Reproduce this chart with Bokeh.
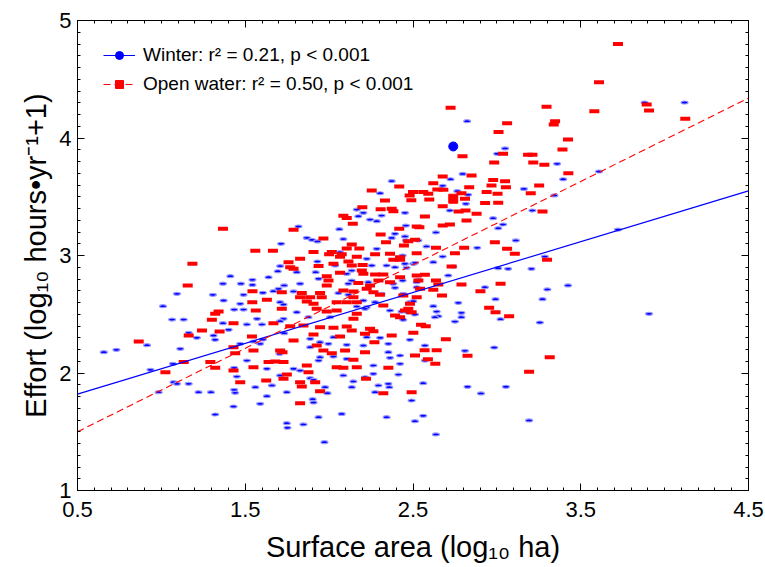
import numpy as np
from bokeh.plotting import figure
from bokeh.models import (Range1d, FixedTicker, LinearAxis, Legend, LegendItem,
                          CustomJSTickFormatter)
from bokeh.embed import file_html
from bokeh.resources import INLINE

# ---------------- data (log10 surface area, log10 effort) ----------------
winter_x = [1.01, 1.093, 1.064, 1.133, 1.307, 1.371, 1.367, 1.411, 1.474, 1.543, 1.543, 1.49, 1.47, 1.434,
            1.605, 1.639, 1.668, 1.698, 1.714, 1.708, 1.694, 1.732, 1.788, 1.817, 1.867, 1.897, 1.93, 1.807,
            1.827, 1.93, 1.92, 1.937, 2.036, 2.065, 2.061, 2.085, 2.165, 2.174, 2.204, 2.244, 2.284, 2.304,
            2.373, 2.313, 2.452, 2.458, 2.373, 2.393, 2.284, 2.224, 2.135, 2.254, 2.343, 2.393, 2.438, 2.452,
            2.502, 2.452, 2.532, 2.105, 2.135, 2.115, 2.234, 2.383, 2.393, 2.438, 2.522, 2.055, 2.115, 2.204,
            2.224, 2.274, 2.313, 2.442, 2.482, 2.522, 1.708, 1.728, 1.807, 1.877, 2.006, 2.165, 2.214, 2.363,
            2.432, 1.49, 1.57, 1.728,
            2.823, 3.881, 4.119, 3.049, 3.002, 3.359, 2.796, 2.724, 2.677, 3.395, 3.161, 3.343, 2.829, 2.764,
            2.815, 2.72, 3.212, 3.609, 2.637, 2.978, 3.037, 3.008, 2.458, 2.581, 2.883, 3.113, 3.722, 2.677,
            2.621, 2.512, 2.462, 2.74, 3.008, 3.067, 3.206, 3.286, 2.71, 2.532, 2.929, 3.301, 3.424, 2.992,
            3.272, 2.77, 2.621, 2.502,
            0.657, 0.732, 0.915, 1.113, 1.163, 1.212, 1.367, 1.311, 1.321, 1.401, 1.51, 1.6, 0.935, 1.069,
            1.073, 1.093, 1.163, 0.984, 1.222, 1.296, 1.321, 1.43, 1.434, 1.44, 1.45, 1.434, 1.47, 1.549,
            1.51, 1.56, 1.629, 1.589, 1.629, 1.659, 1.605, 1.748, 1.748, 1.752, 1.847, 1.827, 1.887, 1.907,
            1.902, 1.907, 1.937, 1.976, 1.99, 1.972, 2.075, 2.085, 2.135, 2.145, 2.214, 2.264, 2.274, 2.294,
            2.343, 2.353, 2.359, 2.413, 2.423, 2.492, 2.512, 2.264, 1.708, 1.732, 1.887, 1.887, 1.946, 1.996,
            2.105, 2.026, 1.946, 1.937, 2.026, 2.105, 2.204, 2.224, 2.304, 2.353, 2.353, 2.363, 2.423, 2.482,
            1.589, 1.704, 1.788, 1.708,
            3.907, 3.256, 3.022, 2.789, 2.789, 2.75, 2.641, 2.651, 2.631, 2.512, 2.472, 2.442, 2.571, 2.81,
            2.984, 2.571, 2.561, 2.825, 3.054, 2.905, 2.561, 2.637, 3.192]
winter_y = [2.569, 2.674, 2.455, 2.455, 2.665, 2.617, 2.76, 2.824, 2.76, 2.793, 2.75, 2.665, 2.589, 2.54,
            2.683, 2.815, 2.696, 2.716, 3.1, 2.91, 2.866, 2.745, 2.694, 3.247, 3.15, 3.133, 3.12, 2.858,
            2.76, 2.949, 2.858, 2.802, 2.915, 3.028, 3.224, 3.14, 3.391, 3.334, 3.363, 3.306, 3.292, 3.53,
            3.633, 3.34, 3.363, 3.255, 3.15, 3.185, 3.057, 2.972, 2.872, 2.915, 2.915, 2.9, 3.0, 2.93,
            2.93, 3.162, 3.128, 2.844, 2.787, 2.76, 2.773, 2.76, 2.725, 2.787, 2.773, 2.68, 2.665, 2.617,
            2.56, 2.603, 2.674, 2.674, 2.603, 2.73, 2.603, 2.583, 2.517, 2.475, 2.475, 2.566, 2.546, 2.532,
            2.523, 2.54, 2.461, 2.461,
            4.143, 4.302, 4.302, 3.911, 3.866, 3.78, 3.694, 3.649, 3.593, 3.649, 3.567, 3.511, 3.517, 3.548,
            3.44, 3.383, 3.383, 3.715, 3.196, 3.318, 3.264, 3.232, 3.128, 3.077, 3.065, 3.128, 3.221, 2.991,
            2.943, 2.938, 2.895, 2.906, 2.892, 2.887, 2.887, 2.991, 2.83, 2.793, 2.73, 2.711, 2.745, 2.628,
            2.628, 2.597, 2.569, 2.611,
            2.177, 2.197, 2.237, 2.206, 2.342, 2.3, 2.424, 2.319, 2.283, 2.368, 2.413, 2.413, 2.027, 2.078,
            1.922, 1.908, 1.908, 1.837, 1.837, 1.837, 1.647, 1.715, 1.857, 1.831, 1.97, 2.044, 2.248, 2.268,
            2.106, 1.879, 2.036, 1.738, 1.803, 1.894, 2.285, 1.837, 1.573, 1.534, 1.562, 2.021, 1.956, 1.942,
            1.777, 1.749, 1.624, 1.879, 1.828, 1.411, 1.652, 1.979, 1.879, 1.928, 1.964, 1.993, 1.837, 1.894,
            1.624, 1.908, 1.879, 1.987, 2.078, 1.766, 1.59, 2.064, 2.441, 2.339, 2.291, 2.22, 2.262, 2.248,
            2.24, 2.305, 2.135, 2.106, 2.14, 2.12, 2.234, 2.305, 2.3, 2.248, 2.177, 2.129, 2.149, 2.283,
            2.248, 2.163, 2.036, 1.979,
            2.504, 2.43, 2.458, 2.512, 2.475, 2.438, 2.523, 2.483, 2.475, 2.498, 2.515, 2.453, 2.234, 2.189,
            2.217, 2.106, 1.913, 1.883, 1.883, 1.826, 1.636, 1.477, 1.596]

open_x = [1.367, 1.185, 1.157, 1.788, 1.56, 1.665, 1.966, 2.254, 2.418, 2.50, 2.48, 2.49, 2.333, 2.198,
          2.307, 2.373, 2.383, 2.085, 2.105, 2.141, 2.418, 2.522, 2.307, 2.135, 2.18, 2.339, 2.472, 2.512,
          2.446, 1.907, 2.016, 2.0, 2.075, 2.065, 2.105, 2.165, 2.115, 2.274, 2.363, 2.423, 2.383, 2.423,
          2.522, 1.827, 1.758, 1.768, 1.788, 1.937, 2.026, 2.135, 2.2, 2.195, 2.204, 1.986, 1.996, 1.986,
          2.065, 2.274, 2.323, 2.294, 2.423, 2.363, 2.522, 2.532, 2.174, 2.244, 1.543, 1.718, 1.629, 1.837,
          1.827, 1.887, 1.946, 1.956, 2.085, 2.145, 2.224, 2.145, 2.165, 2.045, 2.105, 1.867, 1.907, 1.718,
          1.542, 1.563, 1.341, 1.321, 1.301, 1.926, 1.986, 2.045, 2.145, 2.165, 2.393, 2.423, 2.452, 2.323,
          2.472, 2.492, 2.264, 2.303,
          0.865, 1.163, 1.242, 1.347, 1.43, 1.133, 1.024, 1.292, 1.321, 1.43, 1.44, 1.43, 1.47, 1.54,
          1.549, 1.549, 1.625, 1.639, 1.679, 1.708, 1.722, 1.728, 1.748, 1.728, 1.827, 1.837, 1.827, 1.867,
          1.946, 1.877, 1.966, 2.016, 2.095, 2.045, 2.085, 2.145, 2.165, 2.214, 2.22, 2.353, 2.323, 2.492,
          2.512, 2.502, 2.244, 2.264, 2.214, 2.373, 2.27, 2.135, 2.065, 1.907, 1.926, 1.788, 1.768, 1.847,
          1.946, 2.026, 2.105, 1.668, 1.917,
          3.722, 3.609, 3.581, 2.724, 3.296, 3.347, 3.339, 3.893, 3.907, 4.123, 3.061, 3.01, 3.424, 3.391,
          3.037, 3.186, 3.212, 2.795, 2.984, 3.217, 3.283, 3.426, 2.677, 2.849, 2.621, 2.978, 3.049, 3.252,
          2.835, 2.968, 3.054, 3.202, 2.789, 2.561, 2.591, 2.645, 2.681, 2.597, 2.81, 2.939, 3.004, 2.93,
          3.008, 2.677, 2.772, 2.813, 2.879, 3.272, 2.571, 2.819, 2.677, 2.72, 2.538, 2.988, 2.805, 2.637,
          2.75, 3.061, 3.107, 3.299, 2.571, 2.637, 2.651, 2.621, 2.542, 2.789, 2.902, 3.022, 2.673, 2.442,
          2.522, 2.954, 2.482, 2.73,
          2.569, 2.641, 2.589, 2.633, 2.696, 2.825, 2.548, 2.576, 2.992, 3.073, 3.315, 3.192]
open_y = [3.227, 2.93, 2.745, 3.219, 3.04, 3.04, 3.145, 3.553, 3.587, 3.54, 3.51, 3.47, 3.468, 3.411,
          3.394, 3.397, 3.377, 3.338, 3.32, 3.27, 3.227, 3.247, 3.179, 3.094, 3.06, 3.113, 3.122, 3.134,
          3.085, 3.03, 3.03, 3.01, 3.01, 2.99, 3.06, 2.99, 2.949, 3.01, 3.015, 2.986, 2.963, 2.963,
          3.02, 2.972, 2.943, 2.9, 2.887, 2.91, 2.93, 2.915, 2.92, 2.872, 2.844, 2.824, 2.787, 2.745,
          2.853, 2.838, 2.838, 2.787, 2.815, 2.773, 2.83, 2.787, 2.766, 2.745, 2.696, 2.688, 2.623, 2.68,
          2.645, 2.645, 2.68, 2.645, 2.702, 2.694, 2.716, 2.645, 2.603, 2.603, 2.603, 2.608, 2.589, 2.547,
          2.603, 2.532, 2.523, 2.504, 2.453, 2.547, 2.523, 2.532, 2.461, 2.504, 2.489, 2.475, 2.532, 2.574,
          2.546, 2.517, 2.688, 2.665,
          2.268, 2.319, 2.362, 2.353, 2.424, 2.093, 2.007, 2.093, 2.044, 2.22, 2.169, 2.021, 1.922, 2.311,
          2.191, 2.05, 1.936, 2.093, 2.098, 2.191, 2.177, 2.093, 1.987, 1.951, 1.922, 1.885, 1.743, 2.064,
          1.845, 2.007, 2.191, 2.169, 2.191, 2.05, 2.044, 2.112, 2.05, 2.177, 1.951, 2.044, 1.828, 1.837,
          2.149, 2.342, 2.376, 2.356, 2.334, 2.319, 2.262, 2.362, 2.311, 2.328, 2.234, 2.277, 2.398, 2.404,
          2.39, 2.385, 2.396, 2.424, 1.922,
          4.801, 4.475, 4.228, 4.257, 4.266, 4.143, 4.115, 4.285, 4.234, 4.163, 4.126, 4.052, 3.987, 3.902,
          3.866, 3.857, 3.857, 3.845, 3.791, 3.791, 3.772, 3.701, 3.672, 3.681, 3.615, 3.643, 3.632, 3.596,
          3.581, 3.596, 3.581, 3.53, 3.53, 3.54, 3.525, 3.562, 3.559, 3.477, 3.483, 3.54, 3.525, 3.446,
          3.449, 3.42, 3.374, 3.383, 3.355, 3.374, 3.332, 3.298, 3.255, 3.264, 3.241, 3.113, 3.065, 3.065,
          3.02, 3.057, 3.015, 2.963, 2.836, 2.787, 2.753, 2.708, 2.716, 2.753, 2.696, 2.759, 2.66, 2.66,
          2.645, 2.555, 2.589, 2.906,
          2.194, 2.194, 2.117, 2.078, 2.288, 2.146, 2.41, 2.398, 2.517, 2.483, 2.135, 2.011]

# highlighted lake (legend symbols)
winter_hl_x = [2.74]
winter_hl_y = [3.928]
open_hl_x = [2.74]
open_hl_y = [3.483]

# regression fits: intercept, slope
fit_x = [0.5, 4.5]
winter_fit = (1.604, 0.4325)
open_fit = (1.145, 0.71)

x_ticks = [0.5, 1.5, 2.5, 3.5, 4.5]
y_ticks = [1, 2, 3, 4, 5]

FONT = "Liberation Sans"

p = figure(width=765, height=567, x_range=Range1d(0.5, 4.5), y_range=Range1d(1, 5),
           output_backend="svg", toolbar_location=None,
           min_border_left=77, min_border_right=17, min_border_top=20, min_border_bottom=77)
p.grid.visible = False
p.outline_line_color = "black"
p.outline_line_width = 1
p.background_fill_color = "white"

x_minor = [round(v, 2) for v in np.arange(0.5, 4.5001, 0.1)]
y_minor = [round(v, 2) for v in np.arange(1.0, 5.0001, 0.1)]

def style_axis(ax, ticks, minor, show_labels=True):
    ax.ticker = FixedTicker(ticks=ticks, minor_ticks=minor)
    ax.axis_line_color = "black"
    ax.major_tick_in = 7
    ax.major_tick_out = 0
    ax.minor_tick_in = 3
    ax.minor_tick_out = 0
    ax.major_tick_line_color = "black"
    ax.minor_tick_line_color = "black"
    ax.major_label_text_font = FONT
    ax.major_label_text_font_size = "22px"
    ax.major_label_text_color = "black"
    ax.axis_label_text_font = FONT
    ax.axis_label_text_font_size = "29px"
    ax.axis_label_text_font_style = "normal"
    ax.axis_label_text_color = "black"
    if not show_labels:
        ax.formatter = CustomJSTickFormatter(code="return ''")
        ax.major_label_standoff = 0

xa = p.xaxis[0]
style_axis(xa, x_ticks, x_minor)
xa.major_label_standoff = 11
xa.axis_label = "Surface area (log₁₀ ha)"
xa.axis_label_standoff = 11

ya = p.yaxis[0]
style_axis(ya, y_ticks, y_minor)
ya.major_label_standoff = 6
ya.major_label_orientation = "horizontal"
ya.axis_label = "Effort (log₁₀ hours•yr⁻¹+1)"
ya.axis_label_standoff = 4

ra = LinearAxis()
style_axis(ra, y_ticks, y_minor, show_labels=False)
p.add_layout(ra, "right")
ta = LinearAxis()
style_axis(ta, x_ticks, x_minor, show_labels=False)
p.add_layout(ta, "above")

# points
p.ellipse(x=winter_x, y=winter_y, width=7, height=3, width_units="screen", height_units="screen",
          fill_color="#0000ff", line_color="#9a9aff", line_width=1.2)
p.rect(x=open_x, y=open_y, width=10, height=4, width_units="screen", height_units="screen",
       fill_color="#ff0000", line_color=None)

# fit lines
fx = np.array(fit_x)
wl = p.line(fx, winter_fit[0] + winter_fit[1] * fx, line_color="#0000ff", line_width=1.2)
ol = p.line(fx, open_fit[0] + open_fit[1] * fx, line_color="#ff0000", line_width=1.1,
            line_dash="7 4")

# highlighted points
wh = p.scatter(winter_hl_x, winter_hl_y, marker="circle", size=9, fill_color="#0000ff",
               line_color="#0000ff")
oh = p.scatter(open_hl_x, open_hl_y, marker="square", size=9, fill_color="#ff0000",
               line_color="#ff0000")

legend = Legend(items=[
    LegendItem(label="Winter: r² = 0.21, p < 0.001", renderers=[wl, wh]),
    LegendItem(label="Open water: r² = 0.50, p < 0.001", renderers=[ol, oh]),
], location=(26, 395))
legend.margin = 0
legend.padding = 0
legend.spacing = 7
legend.border_line_color = None
legend.background_fill_alpha = 0
legend.label_text_font = FONT
legend.label_text_font_size = "19px"
legend.label_text_color = "black"
legend.glyph_width = 32
legend.glyph_height = 20
legend.label_standoff = 8
legend.label_height = 20
p.add_layout(legend)

open("out.html", "w").write(file_html(p, INLINE))
